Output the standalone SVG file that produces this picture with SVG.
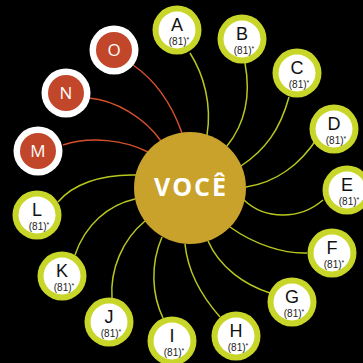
<svg xmlns="http://www.w3.org/2000/svg" width="363" height="363" viewBox="0 0 363 363">
<style>
.bg{fill:#000}
.lg{fill:none;stroke:#b9c81e;stroke-width:1.5}
.lr{fill:none;stroke:#d4502c;stroke-width:1.5}
.ring{fill:#c8d62a}
.in{fill:#fff}
.rring{fill:#fff}
.rin{fill:#c2472a}
.lab{font-family:"Liberation Sans",Arial,sans-serif;fill:#111;text-anchor:middle}
.let{font-size:18px}
.num{font-size:10px;fill:#222}
.ast{font-size:7px}
.rlet{font-family:"Open Sans","DejaVu Sans",sans-serif;font-size:17px;fill:#fff;text-anchor:middle}
.core{fill:#c9a22c}
.vc{font-family:"Open Sans","DejaVu Sans",sans-serif;font-size:25px;font-weight:bold;fill:#fff;text-anchor:middle;letter-spacing:2px}
</style>
<rect class="bg" x="0" y="0" width="363" height="363"/>
<g id="connectors">
<path class="lg" d="M190,53 C204,75 212,105 207,135"/>
<path class="lg" d="M245,63 C250,90 248,120 227,146"/>
<path class="lg" d="M289,97 C280,130 265,150 241,166"/>
<path class="lg" d="M318,137 C300,165 275,183 246,187"/>
<path class="lg" d="M323,200 C300,220 265,220 244,200"/>
<path class="lg" d="M307,253 C285,254 255,245 230,227"/>
<path class="lg" d="M270,293 C245,285 220,268 208,241"/>
<path class="lg" d="M220,317 C205,300 188,275 185,244"/>
<path class="lg" d="M163,318 C152,295 150,265 162,237"/>
<path class="lg" d="M112,298 C110,270 122,240 145,221"/>
<path class="lg" d="M75,255 C85,225 108,205 135,199"/>
<path class="lg" d="M58,202 C72,185 100,174 136,175"/>
<path class="lr" d="M63,145 C90,136 125,140 148,152"/>
<path class="lr" d="M89,98 C115,100 145,118 161,141"/>
<path class="lr" d="M133,65 C155,80 172,105 182,133"/>
</g>
<g id="voce">
<circle class="core" cx="190" cy="188" r="56"/>
<text class="vc" x="191" y="196">VOCÊ</text>
</g>
<g id="nA"><circle class="ring" cx="177" cy="30" r="24.5"/><circle class="in" cx="177" cy="30" r="18.5"/><text class="lab"><tspan class="let" x="177" y="31">A</tspan><tspan class="num" x="179" y="44.5">(81)<tspan class="ast" dy="-3">*</tspan></tspan></text></g>
<g id="nB"><circle class="ring" cx="242" cy="39" r="24.5"/><circle class="in" cx="242" cy="39" r="18.5"/><text class="lab"><tspan class="let" x="242" y="40">B</tspan><tspan class="num" x="244" y="53.5">(81)<tspan class="ast" dy="-3">*</tspan></tspan></text></g>
<g id="nC"><circle class="ring" cx="297" cy="73" r="24.5"/><circle class="in" cx="297" cy="73" r="18.5"/><text class="lab"><tspan class="let" x="297" y="74">C</tspan><tspan class="num" x="299" y="87.5">(81)<tspan class="ast" dy="-3">*</tspan></tspan></text></g>
<g id="nD"><circle class="ring" cx="334" cy="129" r="24.5"/><circle class="in" cx="334" cy="129" r="18.5"/><text class="lab"><tspan class="let" x="334" y="130">D</tspan><tspan class="num" x="336" y="143.5">(81)<tspan class="ast" dy="-3">*</tspan></tspan></text></g>
<g id="nE"><circle class="ring" cx="347" cy="190" r="24.5"/><circle class="in" cx="347" cy="190" r="18.5"/><text class="lab"><tspan class="let" x="347" y="191">E</tspan><tspan class="num" x="349" y="204.5">(81)<tspan class="ast" dy="-3">*</tspan></tspan></text></g>
<g id="nF"><circle class="ring" cx="332" cy="253" r="24.5"/><circle class="in" cx="332" cy="253" r="18.5"/><text class="lab"><tspan class="let" x="332" y="254">F</tspan><tspan class="num" x="334" y="267.5">(81)<tspan class="ast" dy="-3">*</tspan></tspan></text></g>
<g id="nG"><circle class="ring" cx="292" cy="302" r="24.5"/><circle class="in" cx="292" cy="302" r="18.5"/><text class="lab"><tspan class="let" x="292" y="303">G</tspan><tspan class="num" x="294" y="316.5">(81)<tspan class="ast" dy="-3">*</tspan></tspan></text></g>
<g id="nH"><circle class="ring" cx="236" cy="336" r="24.5"/><circle class="in" cx="236" cy="336" r="18.5"/><text class="lab"><tspan class="let" x="236" y="337">H</tspan><tspan class="num" x="238" y="350.5">(81)<tspan class="ast" dy="-3">*</tspan></tspan></text></g>
<g id="nI"><circle class="ring" cx="172" cy="341" r="24.5"/><circle class="in" cx="172" cy="341" r="18.5"/><text class="lab"><tspan class="let" x="172" y="342">I</tspan><tspan class="num" x="174" y="355.5">(81)<tspan class="ast" dy="-3">*</tspan></tspan></text></g>
<g id="nJ"><circle class="ring" cx="109" cy="322" r="24.5"/><circle class="in" cx="109" cy="322" r="18.5"/><text class="lab"><tspan class="let" x="109" y="323">J</tspan><tspan class="num" x="111" y="336.5">(81)<tspan class="ast" dy="-3">*</tspan></tspan></text></g>
<g id="nK"><circle class="ring" cx="62" cy="276" r="24.5"/><circle class="in" cx="62" cy="276" r="18.5"/><text class="lab"><tspan class="let" x="62" y="277">K</tspan><tspan class="num" x="64" y="290.5">(81)<tspan class="ast" dy="-3">*</tspan></tspan></text></g>
<g id="nL"><circle class="ring" cx="37" cy="215" r="24.5"/><circle class="in" cx="37" cy="215" r="18.5"/><text class="lab"><tspan class="let" x="37" y="216">L</tspan><tspan class="num" x="39" y="229.5">(81)<tspan class="ast" dy="-3">*</tspan></tspan></text></g>
<g id="nM"><circle class="rring" cx="38" cy="151" r="24.5"/><circle class="rin" cx="38" cy="151" r="18"/><text class="rlet" x="38" y="157">M</text></g>
<g id="nN"><circle class="rring" cx="66" cy="93" r="24.5"/><circle class="rin" cx="66" cy="93" r="18"/><text class="rlet" x="66" y="99">N</text></g>
<g id="nO"><circle class="rring" cx="114" cy="50" r="24.5"/><circle class="rin" cx="114" cy="50" r="18"/><text class="rlet" x="114" y="56">O</text></g>
</svg>
